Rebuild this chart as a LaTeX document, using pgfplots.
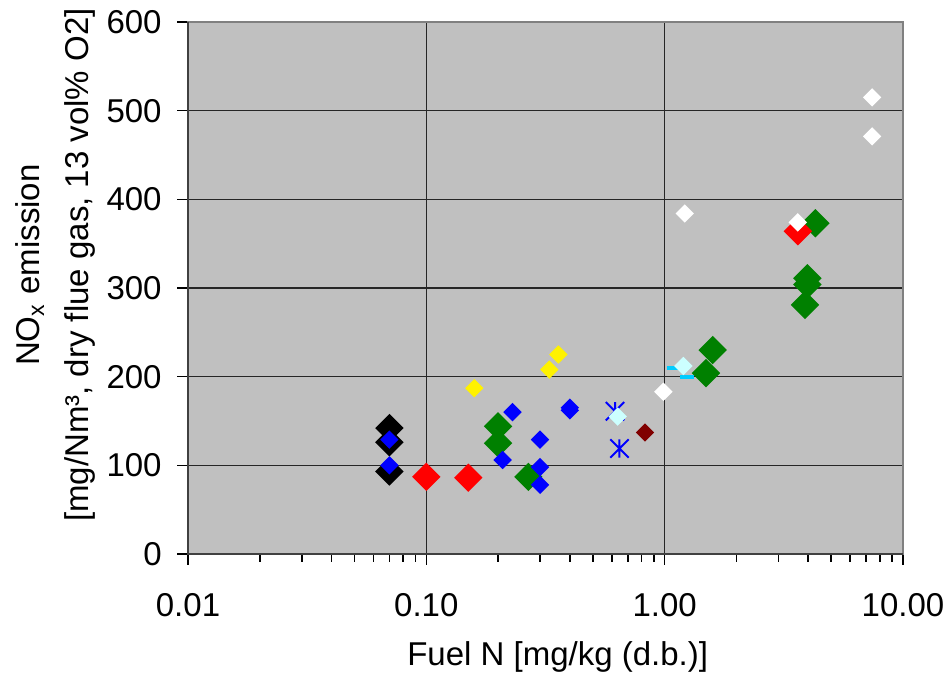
\documentclass[border=0pt]{standalone}
\usepackage{pgfplots}
\pgfplotsset{compat=1.18}
\usepackage{fontspec}
\setmainfont{Liberation Sans}
\definecolor{plotbg}{RGB}{192,192,192}
\definecolor{mgreen}{RGB}{0,128,0}
\definecolor{mdash}{RGB}{0,204,255}
\definecolor{mlcyan}{RGB}{204,255,255}
\definecolor{mdred}{RGB}{128,0,0}
\pgfdeclareplotmark{dia}{%
  \pgfpathmoveto{\pgfqpoint{0pt}{\pgfplotmarksize}}%
  \pgfpathlineto{\pgfqpoint{\pgfplotmarksize}{0pt}}%
  \pgfpathlineto{\pgfqpoint{0pt}{-\pgfplotmarksize}}%
  \pgfpathlineto{\pgfqpoint{-\pgfplotmarksize}{0pt}}%
  \pgfpathclose\pgfusepathqfill}
\pgfdeclareplotmark{xstar}{%
  \pgfpathmoveto{\pgfqpoint{-\pgfplotmarksize}{-\pgfplotmarksize}}%
  \pgfpathlineto{\pgfqpoint{\pgfplotmarksize}{\pgfplotmarksize}}%
  \pgfpathmoveto{\pgfqpoint{-\pgfplotmarksize}{\pgfplotmarksize}}%
  \pgfpathlineto{\pgfqpoint{\pgfplotmarksize}{-\pgfplotmarksize}}%
  \pgfpathmoveto{\pgfqpoint{0pt}{-\pgfplotmarksize}}%
  \pgfpathlineto{\pgfqpoint{0pt}{\pgfplotmarksize}}%
  \pgfusepathqstroke}
\begin{document}
\begin{tikzpicture}
\useasboundingbox (0,0) rectangle (473pt,339pt);
\begin{axis}[
  at={(94pt,62pt)}, anchor=south west,
  scale only axis, width=357.5pt, height=266pt,
  font=\fontsize{16.5}{19.8}\selectfont,
  xmode=log, xmin=0.01, xmax=10, ymin=0, ymax=600,
  xtick={0.01,0.1,1,10}, xticklabels={0.01,0.10,1.00,10.00},
  ytick={0,100,200,300,400,500,600}, yticklabels={0,100,200,300,400,500,600},
  tick pos=left, tick align=outside,
  major tick length=5.5pt, minor tick length=4pt,
  tick style={black, line width=0.7pt},
  minor tick style={black, line width=0.8pt},
  grid=major, major grid style={black!85, line width=0.7pt},
  axis background/.style={fill=plotbg},
  axis line style={draw=black!50, line width=1pt},
  xticklabel style={inner sep=0pt, anchor=north, yshift=-14pt},
  yticklabel style={inner sep=0pt, anchor=east, xshift=-7.5pt},
  xlabel={Fuel N [mg/kg (d.b.)]},
  xlabel style={at={(axis description cs:0.517,-0.194)}, anchor=center, inner sep=0pt},
  ylabel={NO\textsubscript{x} emission\\{}[mg/Nm³, dry flue gas, 13 vol\% O2]},
  ylabel style={at={(axis description cs:-0.186,0.543)}, anchor=center, rotate=0, align=center, font=\fontsize{16.5}{24.5}\selectfont, inner sep=0pt},
  extra description/.code={
    \draw[black!75, line width=1pt] (0,1) -- (0,0) -- (1,0);
  },
]
\addplot[only marks, mark=dia, mark size=7.1pt, color=black] coordinates {
  (0.07,142) (0.07,126) (0.07,93)};
\addplot[only marks, mark=dia, mark size=7.1pt, color=mgreen] coordinates {
  (0.2,144) (0.2,125) (0.268,87) (1.59,230) (1.49,204) (3.97,311) (3.97,304) (3.88,281) (4.29,373)};
\addplot[only marks, mark=dia, mark size=7.1pt, color=red] coordinates {
  (0.1,87) (0.15,86) (3.62,364)};
\addplot[only marks, mark=dia, mark size=4.6pt, color=blue] coordinates {
  (0.07,129) (0.07,100) (0.23,160) (0.209,106) (0.3,129) (0.3,98) (0.3,78) (0.4,162) (0.4,165)};
\addplot[only marks, mark=dia, mark size=4.6pt, color=yellow] coordinates {
  (0.159,187) (0.328,208) (0.358,225)};
\addplot[only marks, mark=xstar, mark size=4.6pt, color=blue, line width=1pt] coordinates {
  (0.619,161) (0.646,119)};
\addplot[only marks, mark=-, mark size=3.5pt, color=mdash, line width=2pt] coordinates {
  (1.09,210) (1.24,200)};
\addplot[only marks, mark=dia, mark size=4.6pt, color=mlcyan] coordinates {
  (0.635,155) (1.198,212)};
\addplot[only marks, mark=dia, mark size=4.6pt, color=mdred] coordinates {
  (0.827,137)};
\addplot[only marks, mark=dia, mark size=4.6pt, color=white] coordinates {
  (0.988,183) (1.214,384) (3.62,374) (7.42,515) (7.42,471)};
\end{axis}
\end{tikzpicture}
\end{document}
